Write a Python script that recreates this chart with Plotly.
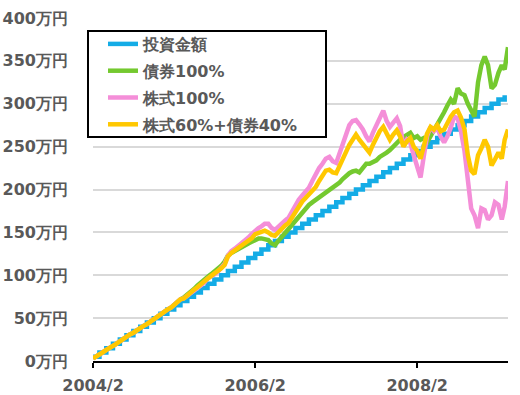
import pandas as pd
import plotly.graph_objects as go

# monthly contribution dates (investment staircase)
months = pd.date_range("2004-02-01", "2009-03-01", freq="MS")
invest = [5 * (k + 1) for k in range(len(months))]  # 5万円 / month cumulative

# semi-monthly valuation dates
semi_dates = []
for d in months:
    semi_dates.append(d)
    semi_dates.append(d + pd.Timedelta(days=15))

bond100 = [
    3, 5, 8, 10, 13, 15, 18, 20, 23, 26, 28, 31, 33, 36, 38, 41, 43, 46, 49, 51,
    54, 57, 60, 62, 66, 68, 72, 74, 77, 80, 84, 88, 92, 95, 98, 101, 104, 107, 111, 116,
    123, 126, 128, 130, 132, 134, 137, 139, 141, 143, 143, 142, 141, 137, 135, 140, 145, 148, 153, 158,
    164, 168, 174, 178, 182, 185, 188, 190, 193, 197, 199, 203, 205, 208, 212, 216, 219, 221, 222, 220,
    226, 230, 230, 232, 234, 238, 240, 243, 246, 250, 255, 258, 261, 263, 266, 260, 262, 258, 260, 255,
    262, 268, 275, 282, 290, 298, 305, 300, 318, 312, 310, 300, 292, 285, 325, 345, 355, 345, 318, 322,
    336, 345, 340, 366,
]
stock100 = [
    3, 5, 8, 10, 13, 15, 18, 20, 23, 26, 28, 31, 33, 36, 38, 41, 43, 46, 49, 51,
    54, 57, 60, 62, 66, 68, 72, 73, 77, 79, 82, 85, 89, 91, 96, 98, 101, 104, 108, 113,
    123, 128, 131, 134, 137, 140, 144, 148, 152, 155, 157, 160, 160, 155, 153, 157, 161, 164, 167, 174,
    180, 188, 193, 197, 202, 210, 219, 225, 230, 236, 238, 233, 231, 242, 255, 266, 275, 280, 281, 276,
    270, 262, 256, 266, 275, 284, 292, 280, 273, 278, 283, 274, 250, 258, 254, 240, 228, 214, 238, 262,
    273, 268, 272, 262, 255, 262, 272, 285, 283, 268, 245, 215, 178, 170, 155, 178, 176, 165, 170, 185,
    182, 165, 180, 210,
]
mix6040 = [
    3, 5, 8, 10, 13, 15, 18, 20, 23, 26, 28, 31, 33, 36, 38, 41, 43, 46, 49, 51,
    54, 57, 60, 62, 66, 68, 72, 73, 77, 79, 83, 86, 90, 92, 96, 99, 102, 104, 108, 112,
    122, 126, 129, 131, 134, 136, 140, 143, 148, 149, 150, 152, 150, 147, 146, 150, 155, 158, 161, 167,
    174, 180, 186, 190, 194, 198, 203, 210, 215, 222, 223, 220, 219, 228, 236, 245, 252, 258, 264, 258,
    252, 248, 243, 252, 262, 268, 273, 265, 258, 264, 269, 262, 250, 256, 260, 250, 245, 236, 252, 265,
    273, 270, 275, 268, 270, 278, 285, 290, 292, 284, 270, 240, 222, 218, 240, 248, 258, 250, 228, 235,
    243, 236, 258, 270,
]

tick_vals = ["2004-02-01", "2006-02-01", "2008-02-01"]
tick_text = ["2004/2", "2006/2", "2008/2"]
y_ticks = [0, 50, 100, 150, 200, 250, 300, 350, 400]
y_text = [f"{v}万円" for v in y_ticks]

names = ["投資金額", "債券100%", "株式100%", "株式60%+債券40%"]
colors = ["#14ace6", "#74c92f", "#f48ed8", "#ffc800"]

fig = go.Figure()
series = [(months, invest, "hv"), (semi_dates, bond100, "linear"),
          (semi_dates, stock100, "linear"), (semi_dates, mix6040, "linear")]
for k, (xs, ys, shp) in enumerate(series):
    fig.add_trace(go.Scatter(x=xs, y=ys, mode="lines", name=names[k],
                             legendgroup=f"g{k}",
                             line=dict(color=colors[k], width=4.5, shape=shp)))

font_main = dict(family="DejaVu Sans", size=16, color="#595959", weight="bold")

PW, PH = 415, 343  # plot area size in px (for paper-coordinate conversion)

fig.update_layout(
    width=520, height=395,
    margin=dict(l=93, r=12, t=18, b=34, autoexpand=False),
    paper_bgcolor="white", plot_bgcolor="white",
    font=font_main,
    showlegend=True,
    legend=dict(x=10 / PW, y=(343 - 9) / PH, xanchor="left", yanchor="top",
                bgcolor="rgba(0,0,0,0)", borderwidth=0,
                tracegroupgap=3,
                font=dict(family="DejaVu Sans", size=16, color="#595959", weight="bold"),
                traceorder="grouped"),
    shapes=[dict(type="rect", xref="paper", yref="paper", layer="above",
                 x0=-5 / PW, x1=233 / PW, y0=(343 - 119) / PH, y1=(343 - 13) / PH,
                 line=dict(color="black", width=2), fillcolor="white")],
    xaxis=dict(type="date", range=["2004-02-01", "2009-03-16"],
               tickvals=tick_vals, ticktext=tick_text,
               showgrid=False, zeroline=False, automargin=False,
               showline=True, linecolor="black", linewidth=1.5,
               ticks="outside", ticklen=5, tickcolor="black", tickwidth=1.5,
               ticklabelstandoff=4,
               tickfont=font_main),
    yaxis=dict(range=[0, 400], tickvals=y_ticks, ticktext=y_text,
               showgrid=True, gridcolor="#d9d9d9", gridwidth=1.5,
               zeroline=False, showline=False, ticks="", automargin=False,
               ticklabelstandoff=24,
               tickfont=font_main),
)

fig.write_html("out.html", post_script="document.body.style.margin='0';",
               config={"displayModeBar": False})
